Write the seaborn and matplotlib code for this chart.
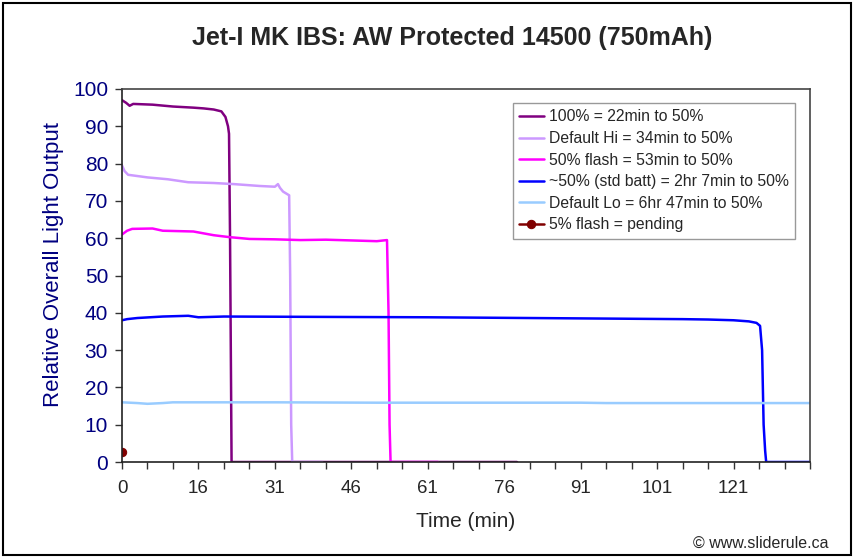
import matplotlib.pyplot as plt
import matplotlib.patches as patches
import seaborn as sns
import numpy as np

sns.set_style("white")
plt.rcParams['font.family'] = ['Liberation Sans', 'DejaVu Sans']

# x positions are in sample-index units of the original category axis
tick_pos = [0, 15, 30, 45, 60, 75, 90, 105, 120]
tick_labels = ["0", "16", "31", "46", "61", "76", "91", "101", "121"]

full_x = [0, 0.8, 1.5, 2.2, 6, 10, 14, 16, 18, 19.5, 20.3, 20.8, 21.0, 21.2, 21.4, 21.5, 77.5]
full_y = [97, 96.3, 95.5, 96, 95.8, 95.3, 95, 94.8, 94.5, 94, 92.5, 90, 88, 60, 20, 0, 0]

hi_x = [0, 0.5, 1.2, 5, 9, 13, 18, 22, 27, 30, 30.6, 31, 31.6, 32.8, 33.0, 33.2, 33.4, 39.3]
hi_y = [79.5, 78, 77, 76.3, 75.8, 75, 74.8, 74.5, 74, 73.8, 74.5, 73.5, 72.5, 71.5, 50, 10, 0, 0]

flash_x = [0, 1, 2, 6, 8, 14, 18, 21, 25, 30, 35, 40, 45, 50, 52, 52.3, 52.5, 52.7, 62]
flash_y = [61, 62, 62.5, 62.6, 62, 61.8, 60.8, 60.3, 59.8, 59.7, 59.5, 59.6, 59.4, 59.2, 59.5, 40, 10, 0, 0]

std_x = [0, 1, 3, 8, 13, 15, 20, 40, 60, 80, 100, 110, 115, 120, 123, 124.5, 125.2, 125.6, 125.9, 126.2, 126.4, 135]
std_y = [38, 38.3, 38.6, 39, 39.2, 38.8, 39, 38.9, 38.8, 38.6, 38.4, 38.3, 38.2, 38, 37.7, 37.3, 36.5, 30, 10, 3, 0, 0]

lo_x = [0, 3, 5, 8, 10, 30, 50, 70, 90, 95, 110, 135]
lo_y = [16, 15.8, 15.6, 15.8, 16, 16, 15.9, 15.9, 15.9, 15.8, 15.8, 15.8]

pulse_x = [0]
pulse_y = [2.8]

series = [
    ("100% = 22min to 50%", full_x, full_y, "#800080"),
    ("Default Hi = 34min to 50%", hi_x, hi_y, "#CC99FF"),
    ("50% flash = 53min to 50%", flash_x, flash_y, "#FF00FF"),
    ("~50% (std batt) = 2hr 7min to 50%", std_x, std_y, "#0000FF"),
    ("Default Lo = 6hr 47min to 50%", lo_x, lo_y, "#99CCFF"),
]

fig = plt.figure(figsize=(8.55, 5.6), dpi=100)
ax = fig.add_axes([122 / 855, 1 - 462 / 560, 688 / 855, 373 / 560])

for label, xs, ys, color in series:
    sns.lineplot(x=xs, y=ys, ax=ax, color=color, label=label, linewidth=1.8, sort=False)
sns.lineplot(x=pulse_x, y=pulse_y, ax=ax, color="#800000", label="5% flash = pending",
             marker="o", markersize=6, markeredgecolor="#800000", linewidth=1.8)

ax.set_xlim(0, 135)
ax.set_ylim(0, 100)
ax.set_xticks(tick_pos)
ax.set_xticklabels(tick_labels)
ax.set_xticks(np.arange(0, 136, 5), minor=True)
ax.set_yticks(range(0, 101, 10))
ax.tick_params(axis='x', which='both', direction='out', length=5, width=1, color='#333333',
               bottom=True, labelsize=13.5, pad=8)
ax.tick_params(axis='y', direction='out', length=5, width=1, color='#333333', left=True,
               labelsize=15, labelcolor='#000080', pad=5)
for s in ax.spines.values():
    s.set_color('#222222')
    s.set_linewidth(1.2)
ax.spines['top'].set_color('#444444')
ax.spines['right'].set_color('#444444')

ax.set_xlabel("Time (min)", fontsize=15)
ax.xaxis.set_label_coords(0.5, -0.135)
ax.set_ylabel("Relative Overall Light Output", fontsize=16, color='#000080')
ax.yaxis.set_label_coords(-0.084, 0.53)
fig.text(452 / 855, 1 - 38 / 560, "Jet-I MK IBS: AW Protected 14500 (750mAh)",
         ha='center', va='center', fontsize=18, fontweight='bold')
fig.text(828 / 855, 1 - 543 / 560, "© www.sliderule.ca", ha='right', va='center', fontsize=11.5)

leg = ax.legend(loc='upper right', bbox_to_anchor=(0.978, 0.962), borderaxespad=0,
                fontsize=11.3, frameon=True, fancybox=False, handlelength=1.6,
                handletextpad=0.3, labelspacing=0.42, borderpad=0.4)
leg.get_frame().set_edgecolor('#808080')
leg.get_frame().set_linewidth(1)

fig.patches.append(patches.Rectangle((3 / 855, 1 - 555 / 560), 848 / 855, 552 / 560,
                                     transform=fig.transFigure, fill=False,
                                     edgecolor='black', linewidth=1.5))

fig.savefig("out.png", dpi=100)
